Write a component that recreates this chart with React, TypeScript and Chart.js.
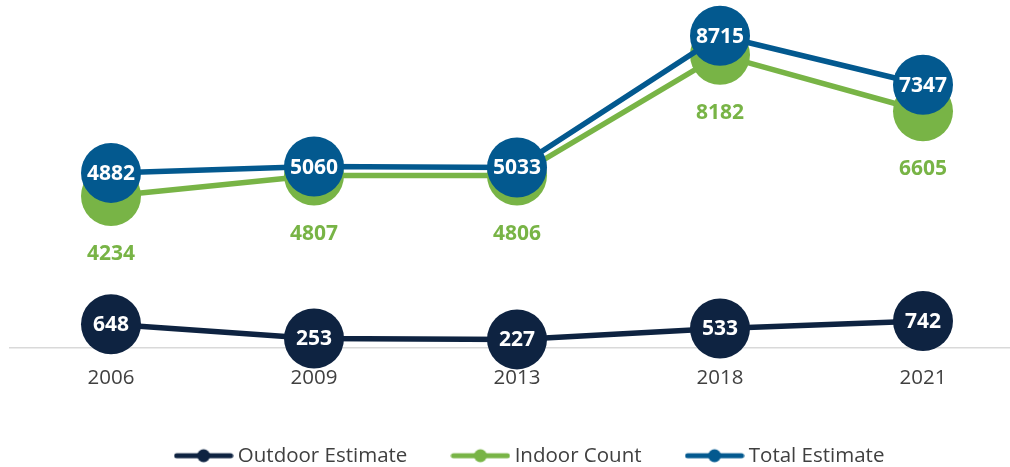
import React, { useEffect, useRef } from "react";
import { Chart, registerables } from "chart.js";

Chart.register(...registerables);

// ---- data ----
const years = ["2006", "2009", "2013", "2018", "2021"];
const outdoorEstimate = [648, 253, 227, 533, 742];
const indoorCount = [4234, 4807, 4806, 8182, 6605];
const totalEstimate = [4882, 5060, 5033, 8715, 7347];
const seriesNames = ["Outdoor Estimate", "Indoor Count", "Total Estimate"];
const yMin = 0;
const yMax = 9000;

const NAVY = "#0e2341";
const GREEN = "#78b446";
const BLUE = "#03598f";
const TEXT = "#404040";
const FONT = "'Open Sans', 'Noto Sans', sans-serif";

const iconCache: Record<string, HTMLCanvasElement> = {};
function legendIcon(color: string): HTMLCanvasElement {
  if (iconCache[color]) return iconCache[color];
  const c = document.createElement("canvas");
  c.width = 60;
  c.height = 16;
  const g = c.getContext("2d")!;
  g.strokeStyle = color;
  g.lineWidth = 5;
  g.lineCap = "round";
  g.beginPath();
  g.moveTo(3, 8);
  g.lineTo(57, 8);
  g.stroke();
  g.fillStyle = color;
  g.beginPath();
  g.arc(30, 8, 6.5, 0, Math.PI * 2);
  g.fill();
  iconCache[color] = c;
  return c;
}

const labelPlugin = {
  id: "pointValueLabels",
  afterDatasetsDraw(chart: any) {
    const ctx = chart.ctx as CanvasRenderingContext2D;
    chart.data.datasets.forEach((ds: any, di: number) => {
      const meta = chart.getDatasetMeta(di);
      const below = !!ds.labelBelow;
      ctx.save();
      ctx.font = `bold 21px ${FONT}`;
      ctx.textAlign = "center";
      ctx.textBaseline = "middle";
      ctx.fillStyle = below ? ds.borderColor : "#ffffff";
      meta.data.forEach((pt: any, i: number) => {
        ctx.fillText(String(ds.data[i]), pt.x, pt.y + (below ? 58 : 1));
      });
      ctx.restore();
    });
  },
};

export default function App() {
  const ref = useRef<HTMLCanvasElement | null>(null);

  useEffect(() => {
    if (!ref.current) return;
    Chart.defaults.font.family = FONT;
    const mk = (label: string, data: number[], color: string, extra: any = {}) => ({
      label,
      data,
      borderColor: color,
      backgroundColor: color,
      pointBackgroundColor: color,
      pointBorderColor: color,
      pointBorderWidth: 0,
      pointRadius: 30,
      pointHoverRadius: 30,
      borderWidth: 5.5,
      tension: 0,
      clip: false,
      ...extra,
    });
    const chart = new Chart(ref.current, {
      type: "line",
      data: {
        labels: years,
        datasets: [
          mk(seriesNames[0], outdoorEstimate, NAVY),
          mk(seriesNames[1], indoorCount, GREEN, { labelBelow: true }),
          mk(seriesNames[2], totalEstimate, BLUE, { order: -1 }),
        ],
      },
      options: {
        responsive: false,
        animation: false,
        events: [],
        layout: { autoPadding: false, padding: { top: 25.6, left: 9.5, right: 5.5, bottom: 0 } },
        scales: {
          x: {
            type: "category",
            offset: true,
            grid: { display: false, drawTicks: false },
            border: { display: true, color: "#d9d9d9", width: 1.5 },
            ticks: { color: TEXT, font: { size: 20.5 }, padding: 18 },
            afterFit: (s: any) => {
              s.height = 49;
            },
          },
          y: {
            position: "right",
            min: yMin,
            max: yMax,
            grid: { display: false },
            border: { display: false },
            ticks: { display: false },
            afterFit: (s: any) => {
              s.width = 30;
            },
          },
        },
        plugins: {
          tooltip: { enabled: false },
          legend: {
            position: "bottom",
            labels: {
              usePointStyle: true,
              pointStyleWidth: 48,
              padding: 49,
              color: TEXT,
              font: { size: 20.5 },
              generateLabels: (c: any) =>
                c.data.datasets.map((ds: any, i: number) => ({
                  text: ds.label,
                  fillStyle: ds.borderColor,
                  strokeStyle: ds.borderColor,
                  lineWidth: 0,
                  pointStyle: legendIcon(ds.borderColor),
                  hidden: false,
                  datasetIndex: i,
                  fontColor: TEXT,
                })),
            },
          },
        },
      } as any,
      plugins: [labelPlugin],
    });
    return () => chart.destroy();
  }, []);

  return (
    <div
      style={{
        position: "fixed",
        left: 0,
        top: 0,
        width: 1010,
        height: 467,
        overflow: "hidden",
        background: "#ffffff",
      }}
    >
      <canvas ref={ref} width={1060} height={476} style={{ display: "block" }} />
    </div>
  );
}
